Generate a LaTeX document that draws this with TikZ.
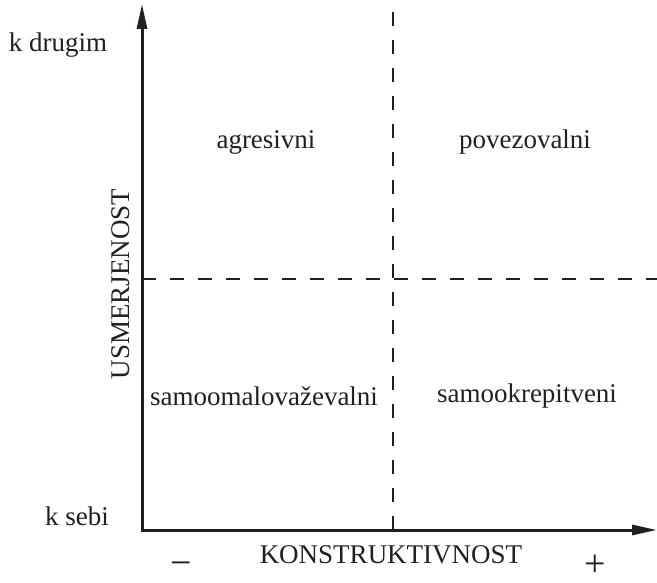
\documentclass[tikz,border=0pt]{standalone}
\usepackage{fontspec}
\setmainfont{Liberation Serif}
\usetikzlibrary{arrows.meta}

\definecolor{ink}{RGB}{35,31,32}
\tikzset{every picture/.style={line width=0.75pt}}
\tikzset{
  axis/.style={draw=ink, line width=3pt, -{Triangle[length=25pt,width=10pt]}},
  divider/.style={draw=ink, line width=1.6pt, dash pattern={on 14pt off 14pt}},
  lbl/.style={inner sep=0.75pt, text=ink, font=\fontsize{27}{32}\selectfont},
  sign/.style={inner sep=0pt, text=ink, font=\fontsize{38}{40}\selectfont}
}

\begin{document}
\begin{tikzpicture}[x=1pt,y=1pt,yscale=-1,xscale=1]
\useasboundingbox (0,0) rectangle (657,583);

% axis ends
\coordinate (origin) at (142,530);
\coordinate (ytop) at (142,4);
\coordinate (xend) at (657,530);
% divider ends
\coordinate (vtop) at (393,12);
\coordinate (vbot) at (393,530);
\coordinate (hleft) at (142,279);
\coordinate (hright) at (657,279);

%Dashed dividers
\draw [divider] (vtop) -- (vbot) ;
\draw [divider] (hleft) -- (hright) ;

%Axes
\draw [axis] (origin) -- (ytop) ;
\draw [axis, line cap=rect] (origin) -- (xend) ;

% Text Node
\node [lbl] (kdrugim) at (58,45) {k drugim};
% Text Node
\node [lbl] (ksebi) at (77,516) {k sebi};
% Text Node
\node [lbl, rotate=90] (usmer) at (121,284) {USMERJENOST};
% Text Node
\node [lbl] (konstr) at (391,555) {KONSTRUKTIVNOST};
% Text Node
\node [sign, anchor=base] (minus) at (181,575) {\textminus};
% Text Node
\node [sign, anchor=base] (plus) at (595,576) {+};
% Text Node
\node [lbl] (agres) at (266,142) {agresivni};
% Text Node
\node [lbl] (povez) at (525,142) {povezovalni};
% Text Node
\node [lbl] (samooma) at (264,396) {samoomalovaževalni};
% Text Node
\node [lbl] (samookr) at (527,396) {samookrepitveni};

\end{tikzpicture}
\end{document}
